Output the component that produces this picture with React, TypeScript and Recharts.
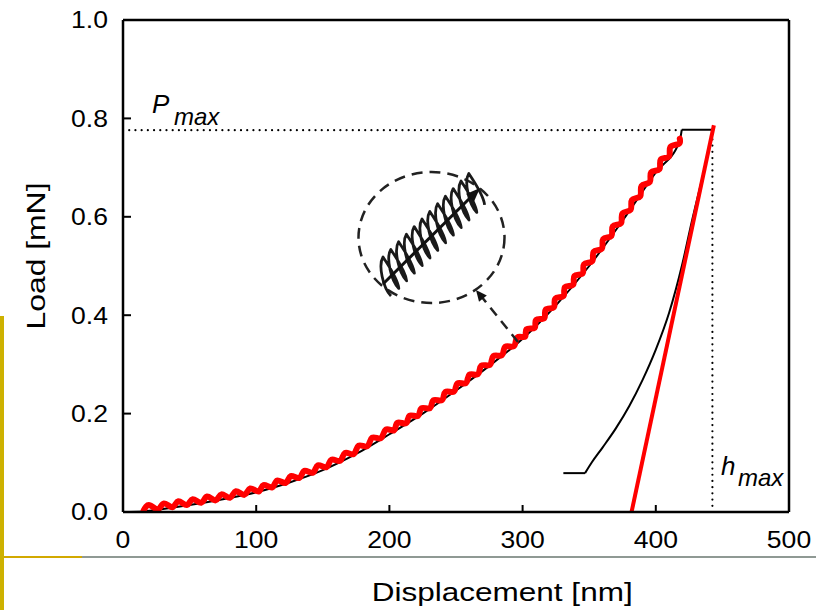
import { LineChart, Line, XAxis, YAxis, ReferenceLine } from "recharts";

const FONT = '"Liberation Sans", Arial, sans-serif';

const xTicks = [0, 100, 200, 300, 400, 500];
const yTicks = [0, 0.2, 0.4, 0.6, 0.8, 1.0];
const xInnerTicks = [100, 200, 300, 400];
const yInnerTicks = [0.2, 0.4, 0.6, 0.8];

const pmax = 0.776;
const hmax = 442.5;
const holdStart = 419.5;

const loadingRed = [
  { h: 15.5, P: 0.003 }, { h: 19.9, P: 0.014 }, { h: 26.3, P: 0.0055 }, { h: 30.7, P: 0.0175 },
  { h: 37.1, P: 0.0096 }, { h: 41.5, P: 0.0218 }, { h: 47.9, P: 0.014 }, { h: 52.3, P: 0.026 },
  { h: 58.7, P: 0.0186 }, { h: 63.1, P: 0.0314 }, { h: 69.5, P: 0.0236 }, { h: 73.9, P: 0.0358 },
  { h: 80.3, P: 0.0289 }, { h: 84.7, P: 0.0421 }, { h: 91.1, P: 0.0348 }, { h: 95.5, P: 0.0477 },
  { h: 101.8, P: 0.0417 }, { h: 105.5, P: 0.0546 }, { h: 112, P: 0.0501 }, { h: 115.7, P: 0.0639 },
  { h: 122.2, P: 0.0592 }, { h: 125.9, P: 0.0732 }, { h: 132.4, P: 0.0691 }, { h: 136.1, P: 0.0836 },
  { h: 142.6, P: 0.08 }, { h: 146.3, P: 0.0948 }, { h: 152.8, P: 0.0912 }, { h: 156.5, P: 0.1065 },
  { h: 163, P: 0.1039 }, { h: 166.7, P: 0.12 }, { h: 173.2, P: 0.1179 }, { h: 176.9, P: 0.1348 },
  { h: 183.4, P: 0.1337 }, { h: 187.1, P: 0.1511 }, { h: 193.6, P: 0.15 }, { h: 197.3, P: 0.1674 },
  { h: 203.5, P: 0.166 }, { h: 206, P: 0.1812 }, { h: 212.5, P: 0.1804 }, { h: 215, P: 0.1957 },
  { h: 221.5, P: 0.1954 }, { h: 224, P: 0.211 }, { h: 230.5, P: 0.2111 }, { h: 233, P: 0.2272 },
  { h: 239.5, P: 0.2274 }, { h: 242, P: 0.2442 }, { h: 248.5, P: 0.2448 }, { h: 251, P: 0.2613 },
  { h: 257.5, P: 0.262 }, { h: 260, P: 0.279 }, { h: 266.5, P: 0.2801 }, { h: 269, P: 0.2975 },
  { h: 275.5, P: 0.299 }, { h: 278, P: 0.3168 }, { h: 284.5, P: 0.3187 }, { h: 287, P: 0.336 },
  { h: 293.5, P: 0.337 }, { h: 296, P: 0.3548 }, { h: 301.9, P: 0.3562 }, { h: 302.9, P: 0.3713 },
  { h: 309.1, P: 0.3744 }, { h: 310.1, P: 0.3905 }, { h: 316.3, P: 0.3938 }, { h: 317.3, P: 0.4114 },
  { h: 323.5, P: 0.4161 }, { h: 324.5, P: 0.4338 }, { h: 330.7, P: 0.4389 }, { h: 331.7, P: 0.4568 },
  { h: 337.9, P: 0.4619 }, { h: 338.9, P: 0.4798 }, { h: 345.1, P: 0.485 }, { h: 346.1, P: 0.5036 },
  { h: 352.3, P: 0.5098 }, { h: 353.3, P: 0.5288 }, { h: 359.5, P: 0.5353 }, { h: 360.5, P: 0.5547 },
  { h: 366.7, P: 0.5612 }, { h: 367.7, P: 0.5806 }, { h: 373.9, P: 0.5872 }, { h: 374.9, P: 0.6068 },
  { h: 381.1, P: 0.6141 }, { h: 382.1, P: 0.6341 }, { h: 388.3, P: 0.6418 }, { h: 389.3, P: 0.6626 },
  { h: 395.5, P: 0.6706 }, { h: 396.5, P: 0.6903 }, { h: 402.7, P: 0.6968 }, { h: 403.7, P: 0.7162 },
  { h: 409.9, P: 0.7225 }, { h: 410.9, P: 0.7416 }, { h: 417.1, P: 0.7479 }, { h: 418, P: 0.759 },
];

// thin black loading curve under the red one
const loadingBlack = [
  { h: 0, P: 0 }, { h: 15, P: 0.001 }, { h: 30, P: 0.006 }, { h: 50, P: 0.014 },
  { h: 75, P: 0.026 }, { h: 100, P: 0.04 }, { h: 125, P: 0.06 }, { h: 150, P: 0.085 },
  { h: 175, P: 0.118 }, { h: 200, P: 0.158 }, { h: 225, P: 0.2 }, { h: 250, P: 0.247 },
  { h: 275, P: 0.297 }, { h: 300, P: 0.352 }, { h: 325, P: 0.42 }, { h: 350, P: 0.5 },
  { h: 375, P: 0.592 }, { h: 400, P: 0.69 }, { h: 418, P: 0.755 }, { h: 419.5, P: 0.777 },
];

// hold at Pmax
const holdBlack = [
  { h: 419.5, P: 0.777 }, { h: 443.1, P: 0.777 },
];

const unloadBlack = [
  { h: 443.1, P: 0.777 }, { h: 435, P: 0.68 }, { h: 427, P: 0.59 }, { h: 420, P: 0.505 },
  { h: 410, P: 0.405 }, { h: 400, P: 0.33 }, { h: 390, P: 0.268 }, { h: 380, P: 0.215 },
  { h: 370, P: 0.17 }, { h: 360, P: 0.131 }, { h: 352, P: 0.101 }, { h: 346.9, P: 0.079 },
];

const tailBlack = [
  { h: 346.9, P: 0.079 }, { h: 330.6, P: 0.079 },
];

// red tangent (stiffness) line
const unloadFit = [
  { h: 381.8, P: 0 }, { h: 443.6, P: 0.786 },
];

function XTick({ x, y, payload }: any) {
  return (
    <text transform={`translate(${x},${y}) scale(1.13,1)`} textAnchor="middle" dy={17}
      fontSize={23.5} fontFamily={FONT} fill="#000">
      {payload.value}
    </text>
  );
}

function YTick({ x, y, payload }: any) {
  return (
    <text transform={`translate(${x},${y}) scale(1.13,1)`} textAnchor="end" dy={8.4}
      fontSize={23.5} fontFamily={FONT} fill="#000">
      {Number(payload.value).toFixed(1)}
    </text>
  );
}

function head(tx: number, ty: number, fx: number, fy: number, len: number, w: number) {
  const dx = tx - fx, dy = ty - fy;
  const d = Math.hypot(dx, dy);
  const ux = dx / d, uy = dy / d;
  const bx = tx - ux * len, by = ty - uy * len;
  return `${tx},${ty} ${bx - uy * w},${by + ux * w} ${bx + uy * w},${by - ux * w}`;
}

function springPath() {
  const ax = 386, ay = 281, n = 12;
  const sx = 7.8, sy = -7.6;
  let d = "";
  for (let i = 0; i < n; i++) {
    const cx = ax + i * sx, cy = ay + i * sy;
    const bx = cx + 5, by = cy + 15;
    const tx = cx - 3, ty = cy - 24;
    const nbx = bx + sx, nby = by + sy;
    if (i === 0) d += `M${bx},${by} `;
    d += `C${bx - 8},${by - 8} ${tx - 5},${ty + 8} ${tx},${ty} `;
    d += `C${tx + 5},${ty + 8} ${nbx - 1},${nby - 10} ${nbx},${nby} `;
  }
  return d;
}

function Overlay() {
  return (
    <svg width={816} height={610} style={{ position: "absolute", left: 0, top: 0, pointerEvents: "none" }}>
      <g fontFamily={FONT} fill="#000" fontStyle="italic">
        <text x={152} y={113} fontSize={26}>P</text>
        <text x={174} y={125} fontSize={24}>max</text>
        <text x={721} y={475} fontSize={26}>h</text>
        <text x={738} y={486} fontSize={24}>max</text>
      </g>
      <text x={371.7} y={601} fontSize={25} fontFamily={FONT} textLength={261} lengthAdjust="spacingAndGlyphs">
        Displacement [nm]
      </text>
      <text transform="translate(45,256) rotate(-90)" textAnchor="middle" fontSize={25} fontFamily={FONT}
        textLength={147} lengthAdjust="spacingAndGlyphs">
        Load [mN]
      </text>
      {/* inset: oscillating load detail */}
      <ellipse cx={431.5} cy={237.5} rx={73} ry={65.5} fill="none" stroke="#222" strokeWidth={2.5} strokeDasharray="11 7" />
      <path d={springPath()} fill="none" stroke="#1a1a1a" strokeWidth={2.8} strokeLinejoin="round" />
      <line x1={383} y1={284} x2={472} y2={196} stroke="#111" strokeWidth={3} />
      <polygon points={head(480, 188, 383, 284, 14, 5.5)} fill="#111" />
      <line x1={518} y1={342} x2={481} y2={296} stroke="#222" strokeWidth={2.5} strokeDasharray="10 7" />
      <polygon points={head(476, 290, 518, 342, 11, 5)} fill="#111" />
      {/* slide decoration */}
      <rect x={0} y={316} width={4} height={294} fill="#cdb100" />
      <rect x={4} y={556} width={78} height={2} fill="#d2a900" />
      <rect x={82} y={556} width={734} height={2} fill="#8f9994" />
    </svg>
  );
}

export default function App() {
  return (
    <div style={{ position: "absolute", left: 0, top: 0, width: 816, height: 610, background: "#fff", overflow: "hidden" }}>
      <LineChart width={816} height={610} margin={{ top: 20, right: 27, bottom: 68, left: 0 }}
        style={{ position: "absolute", left: 0, top: 0 }}>
        <XAxis dataKey="h" type="number" domain={[0, 500]} ticks={xTicks} height={30}
          tickLine={false} tickSize={0} tickMargin={19} tick={<XTick />}
          axisLine={{ stroke: "#000", strokeWidth: 2.5 }} allowDataOverflow />
        <YAxis dataKey="P" type="number" domain={[0, 1]} ticks={yTicks} width={123}
          tickLine={false} tickSize={0} tickMargin={15} tick={<YTick />}
          axisLine={{ stroke: "#000", strokeWidth: 2.5 }} allowDataOverflow />
        <ReferenceLine y={1} stroke="#000" strokeWidth={2.5} />
        <ReferenceLine x={500} stroke="#000" strokeWidth={2.5} />
        {xInnerTicks.map((t) => (
          <ReferenceLine key={`xt${t}`} segment={[{ x: t, y: 0 }, { x: t, y: 0.0142 }]} stroke="#000" strokeWidth={2} />
        ))}
        {yInnerTicks.map((t) => (
          <ReferenceLine key={`yt${t}`} segment={[{ x: 0, y: t }, { x: 6, y: t }]} stroke="#000" strokeWidth={2} />
        ))}
        <ReferenceLine segment={[{ x: 0, y: pmax }, { x: holdStart, y: pmax }]} stroke="#000" strokeWidth={2.2}
          strokeDasharray="0.01 6.2" strokeLinecap="round" />
        <ReferenceLine segment={[{ x: hmax, y: 0 }, { x: hmax, y: pmax }]} stroke="#000" strokeWidth={2.2}
          strokeDasharray="0.01 6.2" strokeLinecap="round" />
        <Line data={loadingBlack} dataKey="P" type="monotone" stroke="#000" strokeWidth={2} dot={false} isAnimationActive={false} />
        <Line data={holdBlack} dataKey="P" type="linear" stroke="#000" strokeWidth={2} dot={false} isAnimationActive={false} />
        <Line data={unloadBlack} dataKey="P" type="monotone" stroke="#000" strokeWidth={2} dot={false} isAnimationActive={false} />
        <Line data={tailBlack} dataKey="P" type="linear" stroke="#000" strokeWidth={2} dot={false} isAnimationActive={false} />
        <Line data={loadingRed} dataKey="P" type="natural" stroke="#ff0000" strokeWidth={6} dot={false}
          strokeLinecap="round" strokeLinejoin="round" isAnimationActive={false} />
        <Line data={unloadFit} dataKey="P" type="linear" stroke="#ff0000" strokeWidth={4} dot={false} isAnimationActive={false} />
      </LineChart>
      <Overlay />
    </div>
  );
}
